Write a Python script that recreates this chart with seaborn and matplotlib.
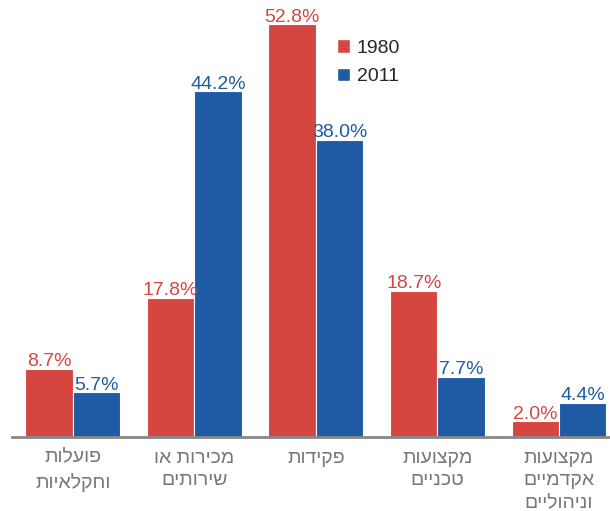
import matplotlib
matplotlib.use("Agg")
import matplotlib.pyplot as plt
import seaborn as sns
import pandas as pd
from matplotlib.patches import Patch

categories = ["פועלות\nוחקלאיות", "מכירות או\nשירותים", "פקידות", "מקצועות\nטכניים", "מקצועות\nאקדמיים\nוניהוליים"]
years = ["1980", "2011"]
values_1980 = [8.7, 17.8, 52.8, 18.7, 2.0]
values_2011 = [5.7, 44.2, 38.0, 7.7, 4.4]
colors = ["#d64641", "#1f5ba5"]

def rtl(s):
    return "\n".join(line[::-1] for line in s.split("\n"))

sns.set_theme(style="white")
plt.rcParams['font.family'] = ['Liberation Sans', 'DejaVu Sans']

rows = []
for c, v in zip(categories, values_1980):
    rows.append({"cat": c, "year": "1980", "val": v})
for c, v in zip(categories, values_2011):
    rows.append({"cat": c, "year": "2011", "val": v})
df = pd.DataFrame(rows)

fig = plt.figure(figsize=(6.1, 5.11), dpi=100)
ax = fig.add_axes([12/610, 1 - 437/511, 1 - 12/610, 437/511])
sns.barplot(data=df, x="cat", y="val", hue="year", order=categories, hue_order=years,
            palette=colors, saturation=1, width=0.78, edgecolor="white", linewidth=0.8,
            ax=ax, legend=False)

for cont, col in zip(ax.containers, colors):
    ax.bar_label(cont, fmt="%.1f%%", color=col, fontsize=14, padding=-1)

ax.set_ylim(0, 55.9)
ax.set_xlim(-0.5, 4.42)
ax.set_xlabel("")
ax.set_ylabel("")
ax.set_yticks([])
ax.set_xticks(range(len(categories)))
ax.set_xticklabels([rtl(c) for c in categories], color="#777777", fontsize=14, linespacing=1.45)
ax.tick_params(axis="x", length=0, pad=9)
for s in ["top", "right", "left"]:
    ax.spines[s].set_visible(False)
ax.spines["bottom"].set_color("#888888")
ax.spines["bottom"].set_linewidth(2)

handles = [Patch(facecolor=colors[0], label="1980"), Patch(facecolor=colors[1], label="2011")]
ax.legend(handles=handles, loc="upper left", bbox_to_anchor=(319/610, 1 - 22/511), bbox_transform=fig.transFigure,
          frameon=False, fontsize=14, handlelength=0.7, handleheight=0.7, handletextpad=0.35,
          labelspacing=0.55)

fig.savefig("out.png", dpi=100)
